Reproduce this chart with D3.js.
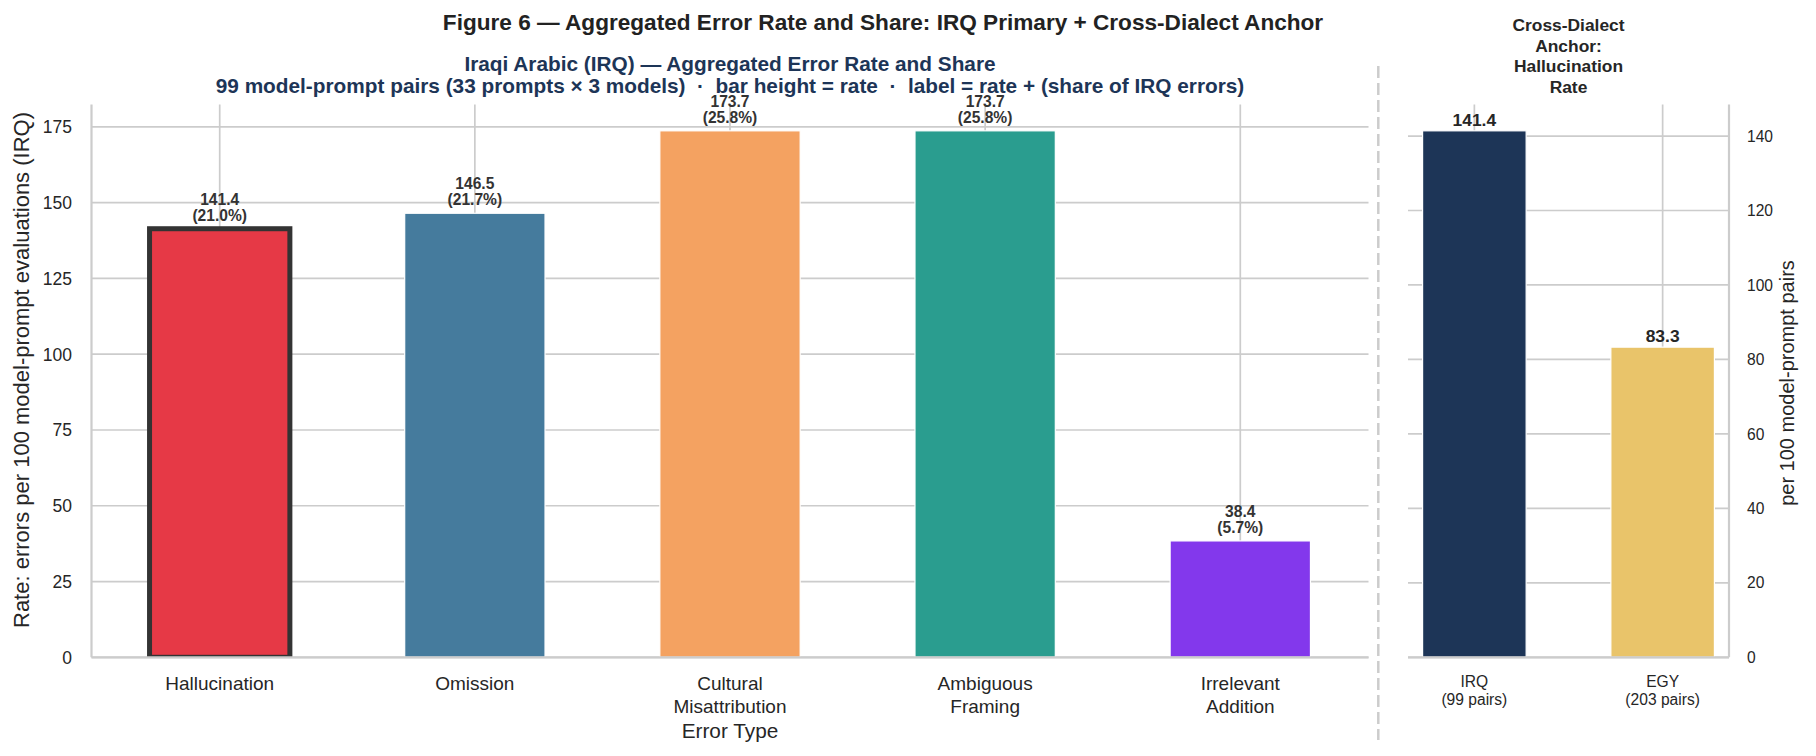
<!DOCTYPE html>
<html><head><meta charset="utf-8">
<script src="https://cdn.jsdelivr.net/npm/d3@7"></script>
<style>
body{margin:0;background:#fff}
svg{display:block}
text{font-family:"Liberation Sans",Arial,Helvetica,sans-serif}
</style>
</head><body>
<svg id="chart" width="1816" height="756"></svg>
<script>
// ---------- data ----------
const categories = ["Hallucination", "Omission", "Cultural\nMisattribution", "Ambiguous\nFraming", "Irrelevant\nAddition"];
const rates = [141.4, 146.5, 173.7, 173.7, 38.4];
const shares = [21.0, 21.7, 25.8, 25.8, 5.7];
const barColors = ["#e63946", "#457b9d", "#f4a261", "#2a9d8f", "#8338ec"];
const leftTicks = [0, 25, 50, 75, 100, 125, 150, 175];

const dialects = ["IRQ\n(99 pairs)", "EGY\n(203 pairs)"];
const dialectRates = [141.4, 83.3];
const dialectColors = ["#1d3557", "#e9c46a"];
const rightTicks = [0, 20, 40, 60, 80, 100, 120, 140];

const suptitle = "Figure 6 \u2014 Aggregated Error Rate and Share: IRQ Primary + Cross-Dialect Anchor";
const leftTitle = ["Iraqi Arabic (IRQ) \u2014 Aggregated Error Rate and Share",
  "99 model-prompt pairs (33 prompts \u00d7 3 models)  \u00b7  bar height = rate  \u00b7  label = rate + (share of IRQ errors)"];
const rightTitle = ["Cross-Dialect", "Anchor:", "Hallucination", "Rate"];

// ---------- layout ----------
const svg = d3.select("#chart");
const TXT = "#262626", GRID = "#cccccc";
const L = {x0: 91.5, x1: 1368.5, top: 104.5, bottom: 657.3};
const R = {x0: 1408, x1: 1729, top: 104.5, bottom: 657.3};

const xL = d3.scaleBand().domain(d3.range(categories.length)).range([L.x0, L.x1]).paddingInner(0.45).paddingOuter(0.2275);
const yL = d3.scaleLinear().domain([0, d3.max(rates) * 1.05]).range([L.bottom, L.top]);
const xR = d3.scaleBand().domain(d3.range(dialects.length)).range([R.x0, R.x1]).paddingInner(0.45).paddingOuter(0.0775);
const yR = d3.scaleLinear().domain([0, d3.max(dialectRates) * 1.05]).range([R.bottom, R.top]);

const defs = svg.append("defs");
defs.append("clipPath").attr("id", "clipL").append("rect")
  .attr("x", L.x0).attr("y", L.top).attr("width", L.x1 - L.x0).attr("height", L.bottom - L.top);
defs.append("clipPath").attr("id", "clipR").append("rect")
  .attr("x", R.x0).attr("y", R.top).attr("width", R.x1 - R.x0).attr("height", R.bottom - R.top);

// ---------- left panel ----------
const gL = svg.append("g");
gL.selectAll("line.hg").data(leftTicks).join("line")
  .attr("x1", L.x0).attr("x2", L.x1).attr("y1", d => yL(d)).attr("y2", d => yL(d))
  .attr("stroke", GRID).attr("stroke-width", 1.7);
gL.selectAll("line.vg").data(d3.range(categories.length)).join("line")
  .attr("x1", i => xL(i) + xL.bandwidth() / 2).attr("x2", i => xL(i) + xL.bandwidth() / 2)
  .attr("y1", L.top).attr("y2", L.bottom)
  .attr("stroke", GRID).attr("stroke-width", 1.7);
gL.append("g").attr("clip-path", "url(#clipL)")
  .selectAll("rect").data(rates).join("rect")
  .attr("x", (d, i) => xL(i)).attr("width", xL.bandwidth())
  .attr("y", d => yL(d)).attr("height", d => yL(0) - yL(d))
  .attr("fill", (d, i) => barColors[i])
  .attr("stroke", (d, i) => i === 0 ? "#333333" : "#ffffff")
  .attr("stroke-width", (d, i) => i === 0 ? 5 : 1.2);
gL.append("line").attr("x1", L.x0).attr("x2", L.x0).attr("y1", L.top).attr("y2", L.bottom)
  .attr("stroke", GRID).attr("stroke-width", 2.2);
gL.append("line").attr("x1", L.x0).attr("x2", L.x1).attr("y1", L.bottom).attr("y2", L.bottom)
  .attr("stroke", GRID).attr("stroke-width", 2.2);
const lab = gL.selectAll("text.val").data(rates).join("text")
  .attr("text-anchor", "middle").attr("font-weight", "bold").attr("font-size", 15.6).attr("fill", "#333333");
lab.append("tspan").attr("x", (d, i) => xL(i) + xL.bandwidth() / 2).attr("y", d => yL(d) - 24)
  .text(d => d.toFixed(1));
lab.append("tspan").attr("x", (d, i) => xL(i) + xL.bandwidth() / 2).attr("y", d => yL(d) - 8)
  .text((d, i) => "(" + shares[i].toFixed(1) + "%)");
gL.selectAll("text.yt").data(leftTicks).join("text")
  .attr("x", 72).attr("y", d => yL(d)).attr("dy", "0.36em")
  .attr("text-anchor", "end").attr("font-size", 17.5).attr("fill", TXT).text(d => d);
const xt = gL.selectAll("text.xt").data(categories).join("text")
  .attr("text-anchor", "middle").attr("font-size", 19).attr("fill", TXT);
xt.each(function(d, i) {
  const t = d3.select(this);
  d.split("\n").forEach((line, k) => {
    t.append("tspan").attr("x", xL(i) + xL.bandwidth() / 2).attr("y", 690 + k * 22.5).text(line);
  });
});
gL.append("text").attr("x", (L.x0 + L.x1) / 2).attr("y", 738).attr("text-anchor", "middle")
  .attr("font-size", 20.8).attr("fill", TXT).text("Error Type");
gL.append("text").attr("transform", "translate(29,370) rotate(-90)").attr("text-anchor", "middle")
  .attr("font-size", 22).attr("fill", TXT).text("Rate: errors per 100 model-prompt evaluations (IRQ)");
gL.append("text").attr("text-anchor", "middle").attr("font-weight", "bold").attr("font-size", 20.8)
  .attr("fill", "#1d3557")
  .selectAll("tspan").data(leftTitle).join("tspan")
  .attr("x", (L.x0 + L.x1) / 2).attr("y", (d, i) => 70.5 + i * 22.5)
  .style("white-space", "pre").text(d => d);

// ---------- right panel ----------
const gR = svg.append("g");
gR.selectAll("line.hg").data(rightTicks).join("line")
  .attr("x1", R.x0).attr("x2", R.x1).attr("y1", d => yR(d)).attr("y2", d => yR(d))
  .attr("stroke", GRID).attr("stroke-width", 1.7);
gR.selectAll("line.vg").data(d3.range(dialects.length)).join("line")
  .attr("x1", i => xR(i) + xR.bandwidth() / 2).attr("x2", i => xR(i) + xR.bandwidth() / 2)
  .attr("y1", R.top).attr("y2", R.bottom)
  .attr("stroke", GRID).attr("stroke-width", 1.7);
gR.append("g").attr("clip-path", "url(#clipR)")
  .selectAll("rect").data(dialectRates).join("rect")
  .attr("x", (d, i) => xR(i)).attr("width", xR.bandwidth())
  .attr("y", d => yR(d)).attr("height", d => yR(0) - yR(d))
  .attr("fill", (d, i) => dialectColors[i])
  .attr("stroke", "#ffffff").attr("stroke-width", 1.2);
gR.append("line").attr("x1", R.x1).attr("x2", R.x1).attr("y1", R.top).attr("y2", R.bottom)
  .attr("stroke", GRID).attr("stroke-width", 2.2);
gR.append("line").attr("x1", R.x0).attr("x2", R.x1).attr("y1", R.bottom).attr("y2", R.bottom)
  .attr("stroke", GRID).attr("stroke-width", 2.2);
gR.selectAll("text.val").data(dialectRates).join("text")
  .attr("x", (d, i) => xR(i) + xR.bandwidth() / 2).attr("y", d => yR(d) - 5)
  .attr("text-anchor", "middle").attr("font-weight", "bold").attr("font-size", 17.4).attr("fill", TXT)
  .text(d => d.toFixed(1));
gR.selectAll("text.yt").data(rightTicks).join("text")
  .attr("x", 1747).attr("y", d => yR(d)).attr("dy", "0.36em")
  .attr("font-size", 15.6).attr("fill", TXT).text(d => d);
const xtr = gR.selectAll("text.xt").data(dialects).join("text")
  .attr("text-anchor", "middle").attr("font-size", 15.6).attr("fill", TXT);
xtr.each(function(d, i) {
  const t = d3.select(this);
  d.split("\n").forEach((line, k) => {
    t.append("tspan").attr("x", xR(i) + xR.bandwidth() / 2).attr("y", 687 + k * 18).text(line);
  });
});
gR.append("text").attr("transform", "translate(1794,383) rotate(-90)").attr("text-anchor", "middle")
  .attr("font-size", 20).attr("fill", TXT).text("per 100 model-prompt pairs");
gR.append("text").attr("text-anchor", "middle").attr("font-weight", "bold").attr("font-size", 17.4)
  .attr("fill", TXT)
  .selectAll("tspan").data(rightTitle).join("tspan")
  .attr("x", (R.x0 + R.x1) / 2).attr("y", (d, i) => 31 + i * 20.5).text(d => d);

// ---------- separator + suptitle ----------
svg.append("line").attr("x1", 1378.3).attr("x2", 1378.3).attr("y1", 66).attr("y2", 740)
  .attr("stroke", GRID).attr("stroke-width", 2.5).attr("stroke-dasharray", "12,5");
svg.append("text").attr("x", 883).attr("y", 30).attr("text-anchor", "middle")
  .attr("font-weight", "bold").attr("font-size", 22.6).attr("fill", "#222222").text(suptitle);
</script>
</body></html>
